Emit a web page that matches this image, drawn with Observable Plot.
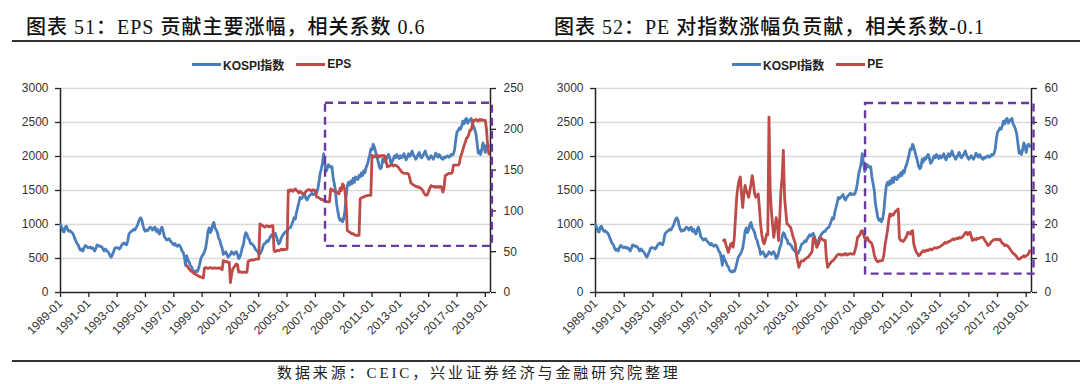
<!DOCTYPE html>
<html><head><meta charset="utf-8">
<script src="https://cdn.jsdelivr.net/npm/d3@7"></script>
<script src="https://cdn.jsdelivr.net/npm/@observablehq/plot@0.6"></script>
<style>
body{margin:0;background:#fff;}
#page{position:relative;width:1080px;height:384px;overflow:hidden;font-family:"Liberation Sans",Arial,sans-serif;background:#fff;}
#header{position:relative;height:80px;}
.title{position:absolute;top:16px;font-family:"Liberation Serif","Noto Sans CJK SC",serif;font-size:20px;line-height:22px;color:#111;white-space:nowrap;letter-spacing:1px;font-weight:500;}
.rule{position:absolute;left:12px;right:0;height:1.5px;background:#333;}
.legend{position:absolute;top:56px;height:16px;display:flex;align-items:center;font-family:"Liberation Sans","Noto Sans CJK SC",sans-serif;font-size:12px;font-weight:bold;color:#222;white-space:nowrap;}
.sw{display:inline-block;width:29px;height:3px;margin-right:2px;}
#charts{display:flex;height:272px;}
#footer{position:relative;height:32px;}
.caption{position:absolute;left:277px;top:13px;font-family:"Liberation Serif","Noto Sans CJK SC",serif;font-size:15px;line-height:17px;letter-spacing:2.9px;color:#222;white-space:nowrap;}
</style>
</head><body>
<div id="page">
  <div id="header">
    <div class="title" style="left:26px">图表 51：EPS 贡献主要涨幅，相关系数 0.6</div>
    <div class="title" style="left:554px">图表 52：PE 对指数涨幅负贡献，相关系数-0.1</div>
    <div class="rule" style="top:40px"></div>
    <div class="legend" style="left:192px"><span class="sw" id="swb1"></span>KOSPI指数<span class="sw" id="swr1" style="margin-left:12px"></span>EPS</div>
    <div class="legend" style="left:732px"><span class="sw" id="swb2"></span>KOSPI指数<span class="sw" id="swr2" style="margin-left:12px"></span>PE</div>
  </div>
  <div id="charts"><div id="c1"></div><div id="c2"></div></div>
  <div id="footer">
    <div class="rule" style="top:8px"></div>
    <div class="caption">数据来源：CEIC，兴业证券经济与金融研究院整理</div>
  </div>
</div>
<script>
// ---- data (monthly, index 0 = 1989-01) ----
const kospi = [
 1000,960,900,890,960,975,930,900,910,890,880,850, // 1989
 800,760,720,700,650,620,640,610,660,690,680,660, // 1990
 660,670,650,660,640,610,650,700,690,680,680,670, // 1991
 640,610,640,620,600,580,540,520,560,600,650,660, // 1992
 660,650,640,670,700,720,730,710,700,760,860,880, // 1993
 900,910,930,920,950,980,1030,1080,1100,1060,980,920, // 1994
 900,920,910,940,960,950,920,950,960,900,930,880, // 1995
 860,930,960,900,820,800,770,780,790,760,740,720, // 1996
 700,720,690,680,700,690,660,610,590,520,400,540, // 1997
 480,450,400,380,330,310,300,320,310,350,420,500, // 1998
 540,560,600,650,760,900,950,880,920,1000,1030,950, // 1999
 920,880,800,770,700,650,560,580,600,560,520,540, // 2000
 560,600,580,560,590,600,560,500,520,580,660,700, // 2001
 820,880,860,800,780,720,720,700,680,640,620,600, // 2002
 580,570,600,640,700,720,730,760,750,790,820,850, // 2003
 830,850,870,820,760,715,740,800,830,860,880,900, // 2004
 900,930,950,960,1000,1050,1100,1080,1180,1250,1320,1400, // 2005
 1380,1400,1420,1440,1380,1360,1400,1420,1440,1460,1440,1450, // 2006
 1440,1460,1520,1620,1750,1820,1900,2040,1900,1780,1820,1880, // 2007
 1860,1840,1850,1700,1600,1500,1300,1200,1100,1060,1080,1040, // 2008
 1080,1200,1400,1560,1620,1580,1640,1600,1680,1620,1700,1680, // 2009
 1660,1720,1700,1760,1720,1790,1760,1840,1880,1950,2020,2110, // 2010
 2100,2180,2140,2070,2000,1940,1860,1820,1840,1960,1920,1980, // 2011
 1960,2000,2030,1980,1900,1920,1960,2010,1980,2030,2000,1970, // 2012
 2010,1980,2000,2040,1990,1950,2000,2040,2000,2030,2080,2020, // 2013
 2000,1960,1990,2030,2060,2000,1980,2010,2040,2080,2030,1990, // 2014
 1960,1980,2010,1990,1960,2000,2050,2010,1990,2030,2000,1970, // 2015
 1960,1990,1980,2000,2010,1990,2000,2030,2020,2040,2100,2250, // 2016
 2360,2380,2420,2400,2450,2520,2480,2540,2560,2490,2520,2540, // 2017
 2560,2480,2450,2400,2340,2200,2050,2080,2030,2100,2200,2150, // 2018
 2060,2160,2180,2150 // 2019
];
const secStart = 107; // 1997-12
const eps = [
 33,
 31,29,27,26,25,23.5,22.5,22,21,20,19.5,19,
 18.5,17.7,30,30.5,30,29.5,30,30.5,30,29.5,30,30,
 30,29.5,30,30,29,28,39,38.5,37.5,38,37,37,
 12,22,29,31,33,35,34,25,25.5,25,24.5,25,
 25,24.5,25,38,39,39.5,40,39.5,40,40.5,41,41,
 41,84,83,82.5,81,80,81,82,81,80.5,81,82,
 82,51,50,51,52,51,52,53,52,53,52.5,53,
 53,125,124,126,125,124,126,127,125,124,122,124,
 123,121,120,122,124,125,126,126,125,125,126,125,
 125,117,117,116,115,114,114,113,112,112,111,111,
 111,127,126,125,124,124,123,122,121,128,125,133,
 131,125,110,76,75,74,73,72,72,71,70,70,
 70,70,115,116,117,117,118,118,119,119,119,119,
 168,167,166,168,167,168,166,167,168,167,168,167,
 160,154,155,155,156,157,155,156,156,155,154,152,
 150,148,147,146,146,146,146,145,140,134,133,132,
 131,130,130,129,129,128,127,125,122,120,119,120,
 124,128,131,130,130,129,130,129,130,129,130,129,
 123,128,143,144,145,146,146,146,147,156,156,156,
 156,156,158,166,170,175,180,184,189,190,194,199,
 199,205,211,211,212,211,210,212,211,212,211,211,
 211,200,180,170
];
const pe = [
 15.3,
 15.5,14,13,11.8,13,14.3,14.5,13.3,16,22,28,31,
 33,34,29,25,29,31.5,30,29,28,30,32,34.4,
 32,29,28,28.5,29,25,20,17,15,14.3,15.5,17.2,
 17,51.6,30,24,20,16.2,19,22,20,15.3,22,30,
 34,41.8,28,24,20.2,20,19.5,19.2,18,16.5,15.5,14.3,
 11,9,7.4,8.5,9.3,9.3,9.3,9.8,10,10.3,10.5,11,
 11.5,12,16,16.2,14.5,13.3,14,15,16.2,15.8,15.5,15.3,
 15.3,10,7.4,8,8.5,9,9.3,9.5,10,10.5,11,11.2,
 11.3,11,11.2,11,11.3,11.5,11,11.2,11.3,11.5,11.3,11.3,
 11.3,12.5,14,16.2,16.5,17,18,18.2,17,16,15.3,16.2,
 15.5,15,14.8,14.3,13,11,10,9.3,9,9.2,9.3,9.3,
 9.5,11,14,16,18.2,21,23.1,22.5,23,22.8,23.5,24,
 24.2,24.6,16,15.3,15.3,15,15.3,16,16.5,17.7,17.5,17.2,
 18,18.2,14.3,13,12,11.5,10.8,11,11.5,12,12.3,12,
 12.3,12.5,12.3,12.6,12.8,12.5,12.8,13,13.2,13,13.3,13.3,
 13.5,13.8,14,14.3,14.7,14.5,14.7,15,15,15.3,15.5,15.8,
 15.5,15.8,16,15.8,16.2,16,16.2,16.5,17,17.5,17.7,17,
 17.5,17.7,16.5,15.3,15.5,15.8,15.5,16,15.8,16,16.2,16.2,
 16.2,15.5,15,14.5,13.8,14,14.5,15,15.3,15.5,15.7,15.5,
 15.7,15.5,15.7,15,14.5,14.3,13.8,14,13.8,13.5,13,12.5,
 12,11.5,11.3,11,10.5,10,9.8,10,10.3,10.5,10.8,10.5,
 10.8,11,11.5,12.3
];
const xTickLabels = ["1989-01","1991-01","1993-01","1995-01","1997-01","1999-01","2001-01","2003-01","2005-01","2007-01","2009-01","2011-01","2013-01","2015-01","2017-01","2019-01"];
const leftTicks = [0,500,1000,1500,2000,2500,3000];
const epsTicks = [0,50,100,150,200,250];
const peTicks = [0,10,20,30,40,50,60];
// highlighted period boxes (month index, secondary-axis units)
const epsBox = [{i1:224.6, i2:366, v1:56.5, v2:232}];
const peBox = [{i1:225.7, i2:366.5, v1:5.4, v2:55.6}];

const BLUE = "#4A7EBB", RED = "#BE4B48", PURPLE = "#6A3B9E";
document.querySelectorAll("#swb1,#swb2").forEach(e=>e.style.background=BLUE);
document.querySelectorAll("#swr1,#swr2").forEach(e=>e.style.background=RED);

const kospiData = kospi.map((v,i)=>({i, v}));
const XMAX = 364.4;

function panel(sec, secTicks, factor, box, mL, mR){
  const secData = sec.map((v,k)=>({i: secStart+k, v}));
  const tickIdx = xTickLabels.map((_,k)=>k*24);
  return Plot.plot({
    width:540, height:272, marginTop:8, marginBottom:60, marginLeft:mL, marginRight:mR,
    style:{fontFamily:"Liberation Sans, Arial, sans-serif", background:"transparent"},
    x:{domain:[0,XMAX], axis:null},
    y:{domain:[0,3000], axis:null},
    marks:[
      Plot.ruleY(leftTicks.filter(d=>d>0), {stroke:"#d9d9d9", strokeWidth:1.5}),
      Plot.axisY(leftTicks, {anchor:"left", label:null, tickSize:5, tickPadding:7, fontSize:12, fill:"#333", stroke:"#222", strokeWidth:1.3, tickFormat:d=>String(d)}),
      Plot.axisY(secTicks.map(d=>d*factor), {anchor:"right", label:null, tickSize:5, tickPadding:8, fontSize:12, fill:"#333", stroke:"#222", strokeWidth:1.3, tickFormat:d=>String(Math.round(d/factor))}),
      Plot.axisX(tickIdx, {anchor:"bottom", label:null, tickSize:5, tickPadding:4, tickRotate:-45, fontSize:12, fill:"#333", stroke:"#222", strokeWidth:1.3, tickFormat:d=>xTickLabels[d/24]}),
      Plot.ruleX([0, XMAX], {stroke:"#222", strokeWidth:1.5}),
      Plot.ruleY([0], {stroke:"#222", strokeWidth:1.5}),
      Plot.line(kospiData, {x:"i", y:"v", stroke:BLUE, strokeWidth:2.8, strokeLinejoin:"round"}),
      Plot.line(secData, {x:"i", y:d=>d.v*factor, stroke:RED, strokeWidth:2.8, strokeLinejoin:"round"}),
      Plot.rect(box, {x1:"i1", x2:"i2", y1:d=>d.v1*factor, y2:d=>d.v2*factor, fill:"none", stroke:PURPLE, strokeWidth:2.4, strokeDasharray:"8,5"})
    ]
  });
}
document.getElementById("c1").append(panel(eps, epsTicks, 12, epsBox, 60, 50));
document.getElementById("c2").append(panel(pe, peTicks, 50, peBox, 55, 49));
</script>
</body></html>
